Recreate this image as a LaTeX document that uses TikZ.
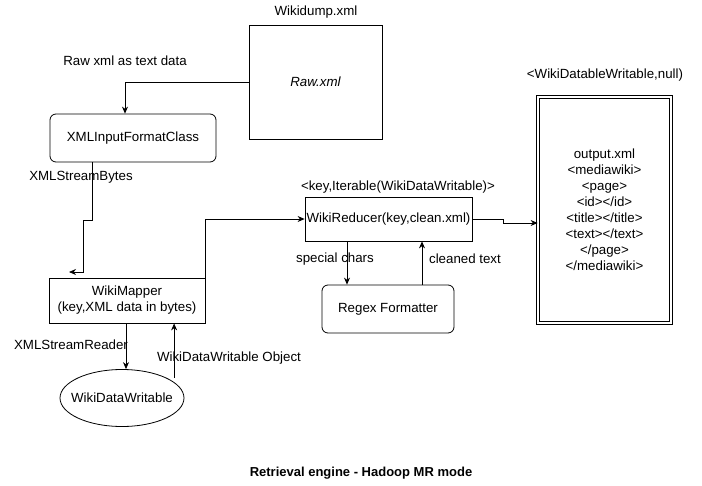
\documentclass[tikz,border=0pt]{standalone}
\usepackage{fontspec}
\setmainfont{Liberation Sans}
\usetikzlibrary{arrows.meta,shapes.geometric,calc}
\begin{document}
\begin{tikzpicture}[x=1pt,y=-1pt,
  every node/.style={font=\fontsize{13.3}{16}\selectfont},
  box/.style={draw,line width=0.8pt,inner sep=0pt,align=center},
  rbox/.style={box,rounded corners=6pt},
  lbl/.style={inner sep=0pt},
  arr/.style={draw,line width=0.8pt,-{Stealth[length=7pt,width=6pt]}},
  ln/.style={draw,line width=0.8pt}]
\useasboundingbox[fill=white] (0,0) rectangle (702,485);

% nodes
\node[box,minimum width=133pt,minimum height=114pt] (raw) at (315.5,82) {\itshape Raw.xml};
\node[lbl] (rawlbl) at (316,12) {Wikidump.xml};
\node[rbox,minimum width=166pt,minimum height=48pt] (xmlin) at (133,138) {XMLInputFormatClass};
\node[box,minimum width=156pt,minimum height=45pt] (mapper) at (127,300.5) {WikiMapper\\(key,XML data in bytes)};
\node[box,ellipse,minimum width=124pt,minimum height=57pt] (ell) at (122,398) {\makebox[0pt]{WikiDataWritable}};
\node[box,minimum width=167pt,minimum height=44pt] (reducer) at (388.5,219) {WikiReducer(key,clean.xml)};
\node[rbox,minimum width=132pt,minimum height=48pt] (regex) at (388,309) {Regex Formatter};
\node[box,double,double distance=2.2pt,minimum width=133pt,minimum height=226pt] (out) at (604.5,210)
  {output.xml\\\textless mediawiki\textgreater\\\textless page\textgreater\\\textless id\textgreater\textless/id\textgreater\\\textless title\textgreater\textless/title\textgreater\\\textless text\textgreater\textless/text\textgreater\\\textless/page\textgreater\\\textless/mediawiki\textgreater};

% labels
\node[lbl] (l1) at (125,61) {Raw xml as text data};
\node[lbl] (l2) at (81,177) {XMLStreamBytes};
\node[lbl] (l3) at (71,345) {XMLStreamReader};
\node[lbl] (l4) at (229,358) {WikiDataWritable Object};
\node[lbl] (l5) at (398,187) {\textless key,Iterable(WikiDataWritable)\textgreater};
\node[lbl] (l6) at (335,259) {special chars};
\node[lbl] (l7) at (465,259) {cleaned text};
\node[lbl] (l8) at (605,75) {\textless WikiDatableWritable,null)};
\node[lbl,font=\fontsize{13}{15}\selectfont\bfseries] (title) at (361,473) {Retrieval engine - Hadoop MR mode};

% connectors
\draw[arr] (raw.west) -| ([xshift=-8pt]xmlin.north);

\coordinate (b1) at (92,220);
\coordinate (b2) at (83,220);
\coordinate (b3) at (83,272);
\coordinate (mapin) at (69,272);
\draw[arr] ([xshift=-41pt]xmlin.south) -- (b1) -- (b2) -- (b3) -- (mapin);

\draw[arr] (mapper.north east) |- (reducer.west);

\draw[arr] ([xshift=-1pt]mapper.south) -- ([xshift=-1pt]mapper.south |- ell.north);
\draw[arr] ([xshift=8pt]ell.north east) -- ([xshift=8pt]ell.north east |- mapper.south);

\coordinate (j1) at (503,219);
\draw[arr] (reducer.east) -- (j1) |- ([yshift=-13pt]out.west);

\draw[arr] ([xshift=-41.5pt]reducer.south) -- ([xshift=-41.5pt]reducer.south |- regex.north);
\draw[arr] ([xshift=34pt]regex.north) -- ([xshift=34pt]regex.north |- reducer.south);
\end{tikzpicture}
\end{document}
